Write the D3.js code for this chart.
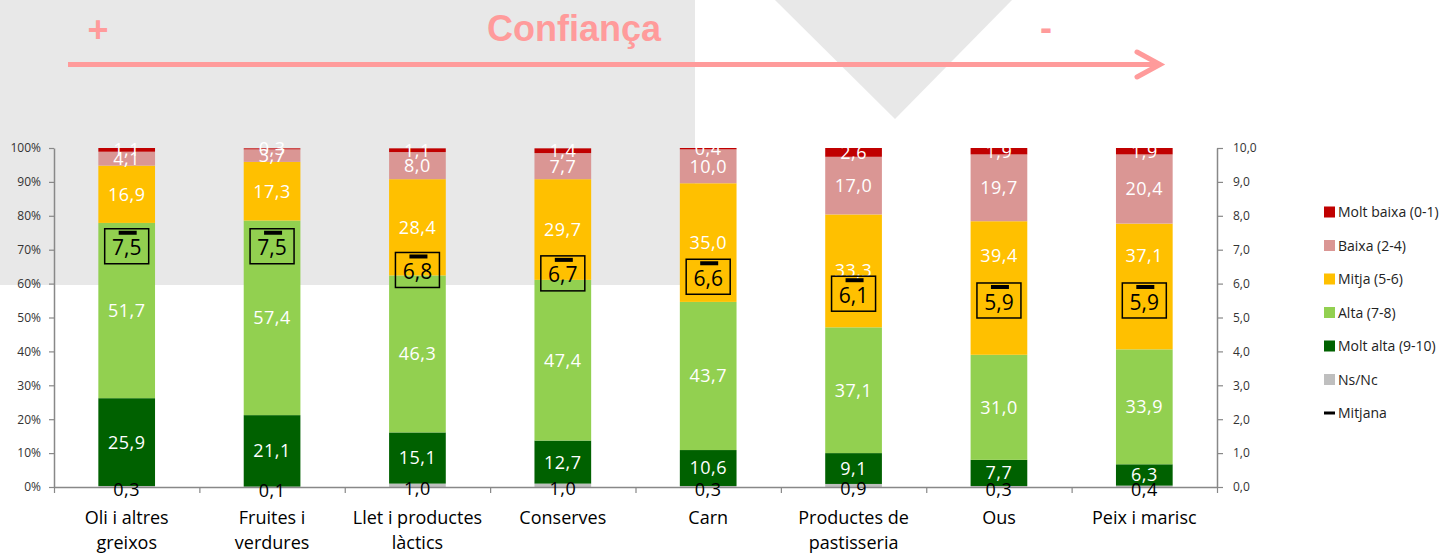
<!DOCTYPE html>
<html>
<head>
<meta charset="utf-8">
<script src="https://cdn.jsdelivr.net/npm/d3@7/dist/d3.min.js"></script>
<style>
  html, body { margin: 0; padding: 0; background: #fff; }
  svg { display: block; }
</style>
</head>
<body>
<svg id="chart" width="1442" height="554"></svg>
<script>
// ---- Data ----
const categories = [
  ["Oli i altres", "greixos"],
  ["Fruites i", "verdures"],
  ["Llet i productes", "làctics"],
  ["Conserves"],
  ["Carn"],
  ["Productes de", "pastisseria"],
  ["Ous"],
  ["Peix i marisc"]
];
const seriesNames = ["Ns/Nc", "Molt alta (9-10)", "Alta (7-8)", "Mitja (5-6)", "Baixa (2-4)", "Molt baixa (0-1)"];
const nsnc      = [0.3, 0.1, 1.0, 1.0, 0.3, 0.9, 0.3, 0.4];
const moltAlta  = [25.9, 21.1, 15.1, 12.7, 10.6, 9.1, 7.7, 6.3];
const alta      = [51.7, 57.4, 46.3, 47.4, 43.7, 37.1, 31.0, 33.9];
const mitja     = [16.9, 17.3, 28.4, 29.7, 35.0, 33.3, 39.4, 37.1];
const baixa     = [4.1, 3.7, 8.0, 7.7, 10.0, 17.0, 19.7, 20.4];
const moltBaixa = [1.1, 0.3, 1.1, 1.4, 0.4, 2.6, 1.9, 1.9];
const mitjana   = [7.5, 7.5, 6.8, 6.7, 6.6, 6.1, 5.9, 5.9];
const leftTicks = [0, 10, 20, 30, 40, 50, 60, 70, 80, 90, 100];
const rightTicks = [0, 1, 2, 3, 4, 5, 6, 7, 8, 9, 10];
const legendItems = ["Molt baixa (0-1)", "Baixa (2-4)", "Mitja (5-6)", "Alta (7-8)", "Molt alta (9-10)", "Ns/Nc", "Mitjana"];

// ---- Styles ----
const colors = {
  "Ns/Nc": "#BFBFBF",
  "Molt alta (9-10)": "#006100",
  "Alta (7-8)": "#92D050",
  "Mitja (5-6)": "#FFC000",
  "Baixa (2-4)": "#DA9694",
  "Molt baixa (0-1)": "#C00000"
};
const pink = "#FF9B9B";
const font = "'Open Sans', 'Noto Sans', sans-serif";

const svg = d3.select("#chart");
const plotL = 54, plotR = 1217, plotT = 148, plotB = 487;

// ---- Background decorations ----
svg.append("rect").attr("x", 0).attr("y", 0).attr("width", 695).attr("height", 285).attr("fill", "#E8E8E8");
svg.append("path").attr("d", "M775,0 L1012,0 L895,119 Z").attr("fill", "#E8E8E8");

svg.append("line").attr("x1", 68).attr("x2", 1158).attr("y1", 64.5).attr("y2", 64.5)
  .attr("stroke", pink).attr("stroke-width", 5);
svg.append("path").attr("d", "M1137,52 L1160,64.5 L1137,77")
  .attr("fill", "none").attr("stroke", pink).attr("stroke-width", 5)
  .attr("stroke-linecap", "round").attr("stroke-linejoin", "miter");
const titleFont = "'Liberation Sans', Arial, sans-serif";
svg.append("text").attr("x", 574).attr("y", 41).attr("text-anchor", "middle")
  .attr("font-family", titleFont).attr("font-weight", "bold").attr("font-size", 36)
  .attr("fill", pink).text("Confiança");
svg.append("text").attr("x", 98).attr("y", 42).attr("text-anchor", "middle")
  .attr("font-family", titleFont).attr("font-weight", "bold").attr("font-size", 36)
  .attr("fill", pink).text("+");
svg.append("text").attr("x", 1046).attr("y", 40).attr("text-anchor", "middle")
  .attr("font-family", titleFont).attr("font-weight", "bold").attr("font-size", 36)
  .attr("fill", pink).text("-");

// ---- Scales ----
const keys = categories.map((c, i) => "c" + i);
const x = d3.scaleBand().domain(keys).range([plotL, plotR]).paddingInner(0.61).paddingOuter(0.305);
const y = d3.scaleLinear().domain([0, 100]).range([plotB, plotT]);
const y2 = d3.scaleLinear().domain([0, 10]).range([plotB, plotT]);
const xb = d3.scaleLinear().domain([0, categories.length]).range([plotL, plotR]);

// ---- Stack ----
const valuesBySeries = {
  "Ns/Nc": nsnc, "Molt alta (9-10)": moltAlta, "Alta (7-8)": alta,
  "Mitja (5-6)": mitja, "Baixa (2-4)": baixa, "Molt baixa (0-1)": moltBaixa
};
const table = keys.map((k, i) => {
  const row = { key: k, idx: i };
  seriesNames.forEach(s => row[s] = valuesBySeries[s][i]);
  return row;
});
const stacked = d3.stack().keys(seriesNames)(table);

const gBars = svg.append("g");
stacked.forEach(layer => {
  gBars.append("g").attr("fill", colors[layer.key])
    .selectAll("rect").data(layer).join("rect")
    .attr("x", d => x(d.data.key))
    .attr("width", x.bandwidth())
    .attr("y", d => y(d[1]))
    .attr("height", d => y(d[0]) - y(d[1]));
});

// ---- Axes ----
function styleAxis(g) {
  g.selectAll(".domain").attr("stroke", "#888").attr("stroke-width", 1.5);
  g.selectAll(".tick line").attr("stroke", "#888").attr("stroke-width", 1.2);
  g.selectAll("text").attr("font-family", font).attr("font-size", 12).attr("fill", "#333");
}
svg.append("g").attr("transform", `translate(${plotL},0)`)
  .call(d3.axisLeft(y).tickValues(leftTicks).tickFormat(d => d + "%").tickSize(5).tickSizeOuter(0).tickPadding(8))
  .call(styleAxis);
svg.append("g").attr("transform", `translate(${plotR},0)`)
  .call(d3.axisRight(y2).tickValues(rightTicks).tickFormat(d => d3.format(".1f")(d).replace(".", ",")).tickSize(6).tickSizeOuter(0).tickPadding(10))
  .call(styleAxis);
svg.append("g").attr("transform", `translate(0,${plotB})`)
  .call(d3.axisBottom(xb).tickValues(d3.range(categories.length + 1)).tickFormat("").tickSize(6).tickSizeOuter(0))
  .call(styleAxis);

// mean label box geometry
const boxTop = m => y2(m) - 4;
const boxH = 35;

// ---- Data labels ----
const gLabels = svg.append("g");
stacked.forEach(layer => {
  gLabels.selectAll(null).data(layer).join("text")
    .attr("x", d => x(d.data.key) + x.bandwidth() / 2)
    .attr("y", d => {
      let cy = (y(d[0]) + y(d[1])) / 2;
      const bt = boxTop(mitjana[d.data.idx]);
      if (layer.key !== "Ns/Nc" && cy > bt && cy < bt + boxH) cy = bt - 27;
      return cy;
    })
    .attr("dy", layer.key === "Ns/Nc" ? "0.55em" : "0.36em")
    .attr("text-anchor", "middle")
    .attr("font-family", font).attr("font-size", 18).attr("letter-spacing", 0.5)
    .attr("fill", layer.key === "Ns/Nc" ? "#000" : "#fff")
    .text(d => d3.format(".1f")(d.data[layer.key]).replace(".", ","));
});

// ---- Mitjana markers ----
const gMean = svg.append("g");
mitjana.forEach((m, i) => {
  const cx = x(keys[i]) + x.bandwidth() / 2;
  const my = y2(m);
  gMean.append("rect").attr("x", cx - 22).attr("y", boxTop(m)).attr("width", 44).attr("height", boxH)
    .attr("fill", "none").attr("stroke", "#000").attr("stroke-width", 1.5);
  gMean.append("rect").attr("x", cx - 8).attr("y", my - 2).attr("width", 18).attr("height", 4).attr("fill", "#000");
  gMean.append("text").attr("x", cx).attr("y", boxTop(m) + 19).attr("dy", "0.36em")
    .attr("text-anchor", "middle").attr("font-family", font).attr("font-size", 21)
    .attr("fill", "#000").text(d3.format(".1f")(m).replace(".", ","));
});

// ---- Category labels ----
const gCat = svg.append("g");
categories.forEach((lines, i) => {
  const cx = x(keys[i]) + x.bandwidth() / 2;
  const t = gCat.append("text").attr("text-anchor", "middle")
    .attr("font-family", font).attr("font-size", 18).attr("fill", "#000");
  lines.forEach((ln, j) => {
    t.append("tspan").attr("x", cx).attr("y", 524 + j * 25).text(ln);
  });
});

// ---- Legend ----
const gLeg = svg.append("g");
legendItems.forEach((name, i) => {
  const ly = 212 + i * 33.5;
  if (name === "Mitjana") {
    gLeg.append("rect").attr("x", 1324).attr("y", ly - 1.5).attr("width", 11).attr("height", 3).attr("fill", "#000");
  } else {
    gLeg.append("rect").attr("x", 1324).attr("y", ly - 5.5).attr("width", 11).attr("height", 11).attr("fill", colors[name]);
  }
  gLeg.append("text").attr("x", 1338).attr("y", ly).attr("dy", "0.36em")
    .attr("font-family", font).attr("font-size", 14).attr("fill", "#222").text(name);
});
</script>
</body>
</html>
